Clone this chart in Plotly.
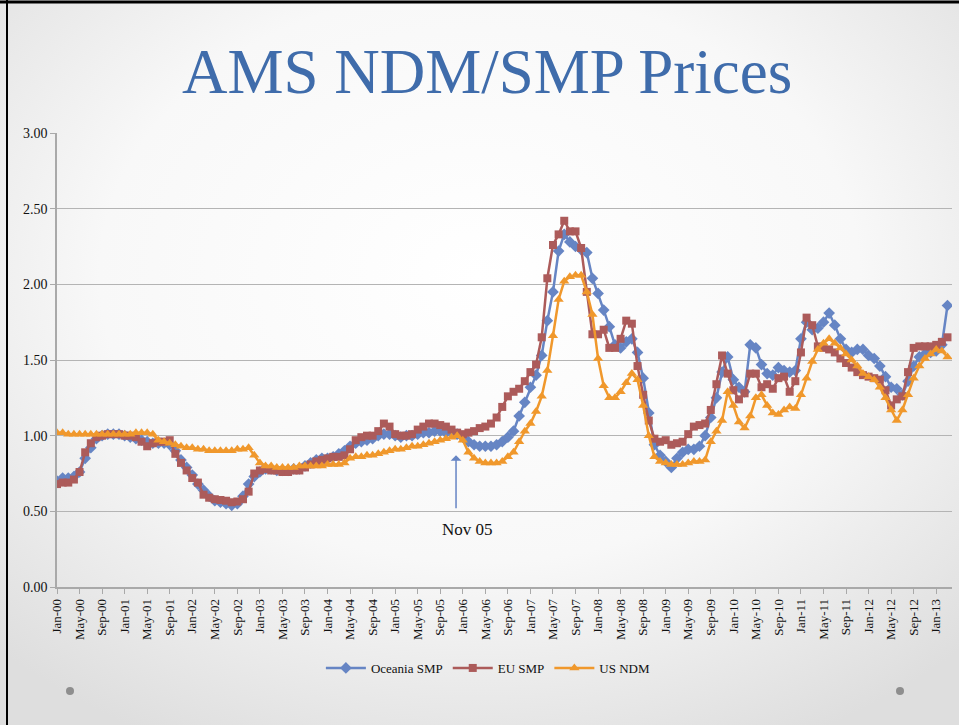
import base64
import pandas as pd
import plotly.graph_objects as go

# monthly prices, Jan-00 .. Mar-13 (one row per year)
oceania_smp = [
    0.70, 0.72, 0.72, 0.73, 0.76, 0.85, 0.92, 0.98, 1.00, 1.01, 1.01, 1.01,
    1.00, 0.99, 0.98, 0.97, 0.96, 0.95, 0.95, 0.95, 0.94, 0.90, 0.84, 0.79,
    0.74, 0.68, 0.64, 0.60, 0.57, 0.56, 0.55, 0.54, 0.55, 0.60, 0.68, 0.73,
    0.76, 0.78, 0.78, 0.77, 0.77, 0.77, 0.78, 0.78, 0.80, 0.82, 0.84, 0.85,
    0.85, 0.86, 0.88, 0.90, 0.93, 0.95, 0.96, 0.97, 0.98, 1.00, 1.01, 1.01,
    1.00, 0.99, 1.00, 1.00, 1.01, 1.02, 1.02, 1.03, 1.03, 1.02, 1.02, 1.01,
    0.99, 0.96, 0.94, 0.93, 0.93, 0.93, 0.94, 0.96, 0.99, 1.03, 1.13, 1.22,
    1.32, 1.40, 1.53, 1.76, 1.95, 2.22, 2.33, 2.28, 2.25, 2.23, 2.21, 2.04,
    1.94, 1.83, 1.72, 1.60, 1.58, 1.62, 1.64, 1.55, 1.38, 1.15, 0.94, 0.87,
    0.83, 0.79, 0.85, 0.89, 0.91, 0.91, 0.93, 1.00, 1.12, 1.25, 1.42, 1.52,
    1.37, 1.32, 1.29, 1.60, 1.58, 1.47, 1.41, 1.40, 1.45, 1.43, 1.42, 1.43,
    1.64, 1.75, 1.70, 1.71, 1.75, 1.81, 1.73, 1.64, 1.57, 1.55, 1.57, 1.57,
    1.53, 1.51, 1.46, 1.39, 1.32, 1.31, 1.27, 1.36, 1.46, 1.52, 1.54, 1.55,
    1.56, 1.60, 1.86,
]

eu_smp = [
    0.68, 0.69, 0.69, 0.71, 0.76, 0.89, 0.95, 0.99, 1.00, 1.01, 1.01, 1.01,
    1.00, 1.00, 0.99, 0.96, 0.93, 0.95, 0.96, 0.96, 0.97, 0.88, 0.82, 0.77,
    0.72, 0.69, 0.61, 0.59, 0.58, 0.575, 0.57, 0.56, 0.565, 0.58, 0.63, 0.75,
    0.77, 0.78, 0.77, 0.77, 0.76, 0.76, 0.77, 0.77, 0.79, 0.81, 0.83, 0.84,
    0.85, 0.86, 0.86, 0.87, 0.91, 0.97, 0.99, 1.00, 1.00, 1.03, 1.08, 1.06,
    1.01, 1.00, 1.00, 1.01, 1.04, 1.06, 1.08, 1.08, 1.07, 1.06, 1.04, 1.02,
    1.01, 1.02, 1.03, 1.05, 1.06, 1.08, 1.12, 1.19, 1.26, 1.29, 1.31, 1.36,
    1.42, 1.47, 1.65, 2.04, 2.26, 2.33, 2.42, 2.35, 2.35, 2.24, 1.95, 1.67,
    1.67, 1.70, 1.58, 1.58, 1.64, 1.76, 1.74, 1.46, 1.27, 1.10, 0.98, 0.96,
    0.97, 0.94, 0.95, 0.96, 1.01, 1.06, 1.07, 1.08, 1.17, 1.34, 1.53, 1.41,
    1.30, 1.24, 1.28, 1.41, 1.41, 1.32, 1.34, 1.31, 1.38, 1.39, 1.29, 1.36,
    1.55, 1.78, 1.73, 1.59, 1.58, 1.57, 1.55, 1.51, 1.48, 1.45, 1.42, 1.40,
    1.39, 1.38, 1.37, 1.30, 1.20, 1.24, 1.26, 1.42, 1.58, 1.59, 1.59, 1.59,
    1.60, 1.62, 1.65,
]

us_ndm = [
    1.02, 1.02, 1.01, 1.01, 1.01, 1.01, 1.01, 1.01, 1.01, 1.01, 1.01, 1.01,
    1.01, 1.01, 1.02, 1.02, 1.02, 1.01, 0.97, 0.96, 0.95, 0.94, 0.93, 0.92,
    0.92, 0.91, 0.91, 0.90, 0.90, 0.90, 0.90, 0.90, 0.91, 0.91, 0.92, 0.87,
    0.82, 0.80, 0.80, 0.79, 0.79, 0.79, 0.79, 0.80, 0.80, 0.80, 0.80, 0.80,
    0.81, 0.81, 0.81, 0.82, 0.85, 0.86, 0.86, 0.87, 0.87, 0.88, 0.89, 0.90,
    0.91, 0.91, 0.92, 0.93, 0.93, 0.94, 0.95, 0.96, 0.97, 0.98, 0.99, 1.00,
    0.97, 0.89, 0.85, 0.83, 0.82, 0.82, 0.82, 0.83, 0.86, 0.89, 0.96, 1.03,
    1.08, 1.16, 1.26, 1.43, 1.66, 1.90, 2.02, 2.05, 2.06, 2.06, 1.95, 1.80,
    1.51, 1.33, 1.25, 1.25, 1.29, 1.35, 1.41, 1.37, 1.20, 1.00, 0.86, 0.83,
    0.82, 0.81, 0.81, 0.81, 0.82, 0.83, 0.83, 0.84, 0.96, 1.03, 1.10, 1.29,
    1.20, 1.09, 1.05, 1.13, 1.25, 1.27, 1.20, 1.15, 1.14, 1.17, 1.19, 1.18,
    1.27, 1.38, 1.49, 1.57, 1.61, 1.64, 1.61, 1.58, 1.54, 1.50, 1.46, 1.41,
    1.39, 1.37, 1.32, 1.25, 1.17, 1.10, 1.17, 1.27, 1.38, 1.46, 1.51, 1.54,
    1.57, 1.56, 1.52,
]

months = pd.date_range("2000-01-01", periods=len(eu_smp), freq="MS")
month_labels = [m.strftime("%b-%y") for m in months]
x_idx = list(range(len(months)))

COLOR_OCE = "#6685C4"
COLOR_EU = "#AC5B5A"
COLOR_US = "#F0982C"
TITLE_BLUE = "#3F6CAB"
SERIF = "Liberation Serif, Times New Roman, serif"

# soft radial slide background
bg_svg = (
    '<svg xmlns="http://www.w3.org/2000/svg" width="959" height="725">'
    '<defs><radialGradient id="g" cx="0.5" cy="0.38" r="0.72">'
    '<stop offset="0" stop-color="#ffffff"/>'
    '<stop offset="0.55" stop-color="#f8f8f8"/>'
    '<stop offset="1" stop-color="#dedede"/>'
    '</radialGradient></defs>'
    '<rect width="959" height="725" fill="url(#g)"/></svg>'
)
bg_src = "data:image/svg+xml;base64," + base64.b64encode(bg_svg.encode()).decode()

W, H = 959, 725
ML, MR, MT, MB = 57, 7, 133, 138
PW, PH = W - ML - MR, H - MT - MB


def px_x(p):
    return (p - ML) / PW


def px_y(p):
    return (H - MB - p) / PH


fig = go.Figure()

fig.add_trace(go.Scatter(
    x=x_idx, y=oceania_smp, name="Oceania SMP", mode="lines+markers",
    line=dict(color=COLOR_OCE, width=2.5),
    marker=dict(symbol="diamond", size=9, color=COLOR_OCE),
))
fig.add_trace(go.Scatter(
    x=x_idx, y=eu_smp, name="EU SMP", mode="lines+markers",
    line=dict(color=COLOR_EU, width=2.5),
    marker=dict(symbol="square", size=8, color=COLOR_EU),
))
fig.add_trace(go.Scatter(
    x=x_idx, y=us_ndm, name="US NDM", mode="lines+markers",
    line=dict(color=COLOR_US, width=2.5),
    marker=dict(symbol="triangle-up", size=9, color=COLOR_US),
))

# Nov 05 marker arrow
nov05 = month_labels.index("Nov-05") + 0.8
fig.add_annotation(
    x=nov05, y=0.87, ax=nov05, ay=0.51, xref="x", yref="y", axref="x", ayref="y",
    text="", showarrow=True, arrowhead=1, arrowsize=1.2, arrowwidth=1.5,
    arrowcolor="#6685C4",
)
fig.add_annotation(
    x=nov05 + 2, y=0.38, xref="x", yref="y", text="Nov 05", showarrow=False,
    font=dict(family=SERIF, size=17, color="#111111"),
)

# slide title
fig.add_annotation(
    x=px_x(487), y=px_y(72), xref="paper", yref="paper", text="AMS NDM/SMP Prices",
    showarrow=False, yanchor="middle",
    font=dict(family=SERIF, size=63, color=TITLE_BLUE),
)

shapes = [
    # black frame at top and left of the slide capture
    dict(type="line", xref="paper", yref="paper", x0=px_x(0), x1=px_x(W),
         y0=px_y(2), y1=px_y(2), line=dict(color="black", width=3)),
    dict(type="line", xref="paper", yref="paper", x0=px_x(7), x1=px_x(7),
         y0=px_y(0), y1=px_y(H), line=dict(color="black", width=2)),
]
for cx in (70, 900):
    shapes.append(dict(
        type="circle", xref="paper", yref="paper", xsizemode="pixel", ysizemode="pixel",
        xanchor=px_x(cx), yanchor=px_y(691), x0=-4, x1=4, y0=-4, y1=4,
        fillcolor="#8E8E8E", line=dict(width=0),
    ))

fig.update_layout(
    width=W, height=H,
    margin=dict(l=ML, r=MR, t=MT, b=MB),
    paper_bgcolor="#eeeeee",
    plot_bgcolor="rgba(0,0,0,0)",
    font=dict(family=SERIF, color="#111111"),
    showlegend=True,
    legend=dict(
        orientation="h", x=0.482, xanchor="center", y=px_y(668), yanchor="middle",
        font=dict(family=SERIF, size=13, color="#111111"),
        bgcolor="rgba(0,0,0,0)", itemwidth=40, tracegroupgap=0,
    ),
    shapes=shapes,
    images=[dict(
        source=bg_src, xref="paper", yref="paper", x=px_x(0), y=px_y(0),
        sizex=W / PW, sizey=H / PH, xanchor="left", yanchor="top",
        sizing="stretch", layer="below",
    )],
    xaxis=dict(
        range=[0, 158.8],
        tickmode="array", tickvals=x_idx[::4], ticktext=month_labels[::4],
        tickangle=-90, tickfont=dict(family=SERIF, size=13, color="#111111"),
        showgrid=False, zeroline=False,
        showline=True, linecolor="#A9A9A9", linewidth=1.5,
        ticks="outside", ticklen=5, tickcolor="#A9A9A9",
    ),
    yaxis=dict(
        range=[0, 3], dtick=0.5, tickformat=".2f",
        tickfont=dict(family=SERIF, size=14, color="#111111"),
        showgrid=True, gridcolor="#B4B4B4", gridwidth=1.2,
        zeroline=False, showline=True, linecolor="#A9A9A9", linewidth=1.5,
        ticks="outside", ticklen=5, tickcolor="#A9A9A9",
    ),
)

# page body margin would shift the slide and add scrollbars
fig.write_html(
    "out.html",
    config={"displayModeBar": False},
    post_script="document.body.style.margin='0';document.body.style.overflow='hidden';",
)
